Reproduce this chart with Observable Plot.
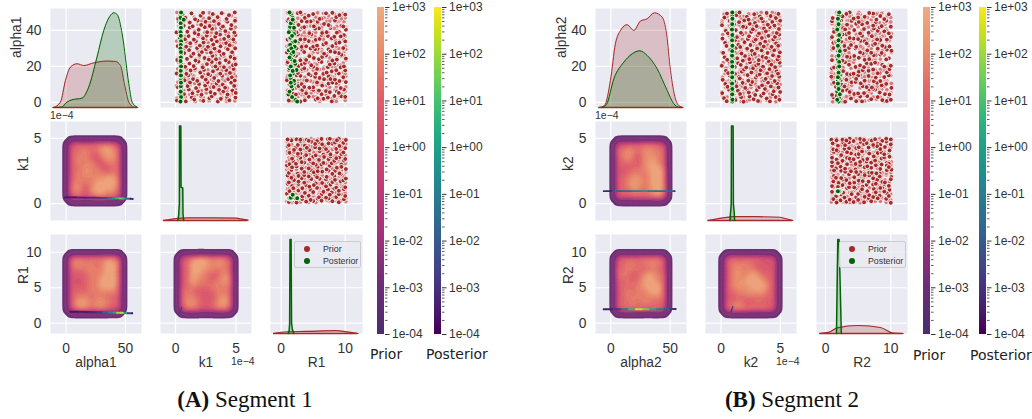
<!DOCTYPE html>
<html><head><meta charset="utf-8">
<script src="https://cdn.jsdelivr.net/npm/d3@7"></script>
<script src="https://cdn.jsdelivr.net/npm/@observablehq/plot@0.6"></script>
<style>
html,body{margin:0;padding:0;background:#fff}
#root{position:relative;width:1032px;height:419px;overflow:hidden}
#root>svg,#root>div{position:absolute}
.lab{font:14px "DejaVu Sans",sans-serif;color:#222;white-space:nowrap}
.off{font:10.5px "Liberation Sans",sans-serif;color:#333;white-space:nowrap}
.cap{font:23px "Liberation Serif",serif;color:#111;white-space:nowrap;transform:translateX(-50%)}
.leg{background:rgba(234,234,242,.85);border:1px solid #ccc;border-radius:2px;box-sizing:border-box;font:8.8px "Liberation Sans",sans-serif;color:#333}
.leg span{position:absolute;white-space:nowrap}
.leg i{position:absolute;width:6px;height:6px;border-radius:50%}
</style></head><body><div id="root"></div>
<script>
// ---------- Prior samples, segment 1
const alpha1=[1.1,3.2,0.6,2.8,1.6,3.6,0.9,2.3,3.4,0.5,2.0,3.1,1.2,2.7,
6.9,4.6,7.2,5.1,6.3,4.3,7.4,5.7,4.8,7.0,6.1,4.4,6.6,5.3,
8.4,10.8,9.1,11.1,8.0,10.2,9.4,11.3,8.6,10.5,9.9,8.2,11.0,9.2,
14.6,12.3,15.0,13.0,12.0,14.2,12.7,15.1,13.6,11.9,14.8,12.9,14.0,12.2,
16.1,18.4,15.9,17.8,18.9,16.6,18.1,15.7,17.3,18.7,16.0,17.9,16.4,18.6,
22.2,19.8,21.6,20.2,22.7,19.5,21.3,22.5,20.0,21.9,19.6,22.4,20.7,21.1,
23.6,26.1,24.2,25.7,23.3,26.4,24.7,23.8,25.9,24.0,26.5,23.4,25.3,24.4,
29.8,27.4,29.1,27.1,30.2,28.0,29.5,27.7,30.0,28.4,27.0,29.6,27.9,30.1,
31.3,33.7,31.0,32.9,34.0,31.6,33.3,30.9,32.2,33.9,31.2,33.0,31.8,34.1,
37.4,35.1,36.9,34.9,37.8,35.6,37.1,34.8,36.5,37.7,35.3,36.7,35.0,37.5,
38.9,41.2,39.3,41.6,38.6,40.4,41.8,39.0,40.9,38.5,41.4,39.6,41.0,38.8,
45.0,42.6,44.4,42.3,45.5,43.1,44.8,42.5,45.2,43.6,42.2,44.9,43.0,45.4,
46.5,48.8,47.0,49.5,46.2,48.2,49.8,46.8,49.1,47.4,49.6,46.4,48.5,50];
const k1=[.12,.6,.85,1.35,1.55,2.1,2.3,2.8,3.0,3.5,3.75,4.25,4.45,4.95,
.35,.7,1.1,1.4,1.85,2.15,2.55,2.9,3.25,3.6,3.95,4.3,4.7,4.98,
.2,.5,1.0,1.2,1.7,1.95,2.45,2.65,3.15,3.4,3.9,4.1,4.6,4.85,
.4,.75,1.05,1.45,1.8,2.2,2.5,2.85,3.2,3.55,3.85,4.35,4.65,4.9,
.1,.55,.9,1.25,1.6,2.05,2.35,2.7,3.1,3.45,3.7,4.2,4.5,4.8,
.3,.8,1.15,1.5,1.9,2.25,2.6,3.0,3.3,3.65,4.0,4.4,4.75,4.97,
.15,.45,.95,1.3,1.65,1.98,2.4,2.75,3.05,3.35,3.8,4.15,4.55,4.88,
.38,.72,1.12,1.48,1.78,2.18,2.52,2.92,3.22,3.62,3.98,4.32,4.68,4.93,
.18,.52,.88,1.22,1.68,2.02,2.32,2.68,3.12,3.42,3.72,4.18,4.48,4.82,
.33,.78,1.08,1.52,1.88,2.28,2.58,2.98,3.28,3.68,4.02,4.38,4.78,4.96,
.08,.48,.98,1.18,1.58,1.92,2.42,2.62,3.02,3.38,3.78,4.12,4.58,4.86,
.28,.68,1.18,1.42,1.82,2.12,2.48,2.82,3.18,3.58,3.92,4.28,4.62,4.92,
.22,.58,.82,1.32,1.62,2.08,2.28,2.78,3.08,3.48,3.82,4.22,4.42,4.9];
const R1=[1.2,4.3,7.9,1.7,5.4,8.3,2.6,5.7,9.4,3.0,6.6,10,3.7,7.3,
3.3,6.3,9.8,3.9,7.0,1.0,4.7,7.6,1.9,5.0,8.7,2.3,5.9,9.0,
5.0,8.6,2.7,5.6,9.3,3.2,6.4,10.1,3.6,7.4,1.3,4.4,8.0,1.6,
7.4,0.9,4.6,7.7,2.0,5.3,8.4,2.4,6.0,9.1,3.0,6.7,9.7,4.0,
9.0,3.3,6.6,10,3.6,7.1,1.2,4.3,7.9,1.7,5.4,8.6,2.6,5.6,
1.9,5.0,8.3,2.7,6.0,9.3,3.2,6.3,9.8,3.7,7.3,1.0,4.7,7.6,
3.9,7.0,1.3,4.4,8.0,1.6,5.1,8.7,2.3,5.9,9.4,3.0,6.4,10.1,
5.7,9.0,3.3,6.7,9.7,3.6,7.4,0.9,4.6,7.7,2.0,5.3,8.4,2.4,
8.0,1.7,5.0,8.6,2.7,5.6,9.1,3.2,6.6,10,3.9,7.0,1.2,4.3,
9.8,3.7,7.3,1.0,4.7,7.9,1.6,5.4,8.3,2.6,6.0,9.3,3.0,6.3,
2.4,5.9,9.0,3.3,6.4,10.1,3.6,7.1,1.3,4.4,7.7,2.0,5.3,8.7,
4.6,7.6,1.9,5.1,8.4,2.7,5.7,9.4,3.2,6.7,9.7,4.0,7.4,1.0,
6.3,10,3.7,7.0,1.2,4.3,8.0,1.7,5.0,8.6,2.6,6.0,9.1,3.0];
// ---------- Prior samples, segment 2
const alpha2=[2.4,0.7,3.5,1.3,2.9,0.4,3.3,1.8,0.8,3.7,2.2,0.6,3.0,1.5,
5.2,7.1,4.4,6.5,4.7,7.3,5.5,4.2,6.9,5.0,7.5,4.6,6.2,5.8,
10.3,8.7,11.2,9.0,10.9,8.1,10.0,11.4,8.5,9.5,11.0,8.9,10.6,8.3,
12.6,14.9,11.8,14.1,13.3,15.2,12.1,13.8,15.0,12.4,13.1,14.7,11.9,14.3,
17.6,16.3,18.8,15.8,17.1,18.3,16.7,19.0,15.6,17.9,16.2,18.5,17.4,16.0,
20.4,22.6,19.7,21.8,20.9,19.4,22.3,20.6,21.4,19.9,22.8,21.0,19.6,22.1,
25.1,23.7,26.3,24.5,23.2,25.8,24.1,26.6,23.5,25.4,24.8,26.2,23.9,25.6,
27.6,29.3,28.2,30.3,27.2,29.9,28.7,27.0,30.0,28.9,27.5,30.2,29.0,27.8,
33.1,31.4,34.2,32.0,30.8,33.5,31.9,34.0,32.6,31.1,33.8,30.9,32.8,31.5,
35.5,37.6,34.7,36.3,37.9,35.2,36.8,34.9,37.3,35.8,37.0,35.0,36.4,37.7,
39.8,38.4,41.3,40.2,38.7,41.7,39.2,40.6,38.3,41.1,39.5,41.9,38.6,40.8,
42.9,45.3,43.4,44.6,42.1,45.6,43.7,44.2,42.4,45.1,43.2,44.7,42.7,45.4,
47.2,49.4,46.3,48.4,50,47.6,46.0,49.0,47.8,46.6,49.7,48.0,46.9,49.2];
const k2=[.25,.48,.95,1.22,1.7,1.9,2.4,2.75,3.12,3.38,3.85,4.12,4.6,4.92,
.1,.66,1.05,1.42,1.6,2.16,2.34,2.88,3.02,3.58,3.7,4.34,4.44,4.98,
.36,.55,.82,1.3,1.82,2.04,2.52,2.62,3.22,3.46,3.96,4.2,4.72,4.84,
.14,.74,1.12,1.5,1.58,2.24,2.3,2.94,3.06,3.64,3.76,4.3,4.52,4.9,
.42,.6,.9,1.18,1.76,1.94,2.56,2.7,3.26,3.34,3.88,4.08,4.68,4.8,
.06,.7,1.16,1.44,1.66,2.12,2.44,2.96,3.14,3.54,4.02,4.24,4.56,4.94,
.3,.52,.86,1.36,1.84,2.02,2.38,2.66,3.18,3.5,3.8,4.38,4.76,4.86,
.18,.78,1.08,1.26,1.72,2.2,2.6,2.84,3.04,3.42,3.92,4.16,4.48,4.96,
.34,.46,.98,1.46,1.62,1.98,2.48,2.78,3.3,3.6,3.72,4.26,4.64,4.82,
.12,.64,1.2,1.34,1.8,2.26,2.36,2.92,3.1,3.44,4.0,4.4,4.54,4.9,
.4,.58,.84,1.24,1.68,2.08,2.54,2.68,3.2,3.62,3.78,4.1,4.7,4.88,
.08,.72,1.1,1.52,1.86,1.96,2.42,2.86,3.0,3.52,3.94,4.32,4.5,4.98,
.28,.5,.92,1.28,1.56,2.18,2.32,2.8,3.28,3.4,3.84,4.18,4.62,4.84];
const R2=[2.3,4.7,6.4,8.7,1.2,3.0,5.3,7.0,9.4,1.7,3.9,5.6,8.0,10,
5.9,7.6,9.8,2.6,4.4,6.7,8.3,1.0,3.3,5.0,7.3,9.1,1.9,3.7,
9.3,1.6,4.0,5.7,7.9,10.1,2.4,4.6,6.3,8.6,1.3,2.9,5.4,7.1,
3.2,5.0,7.4,9.0,2.0,3.6,6.0,7.7,9.7,2.3,4.7,6.6,8.4,0.9,
6.6,8.3,1.0,3.3,5.1,7.3,9.4,1.6,3.9,5.7,8.0,9.8,2.7,4.3,
10,2.4,4.6,6.3,8.7,1.3,3.0,5.3,7.0,9.0,1.9,3.6,5.9,7.6,
3.7,6.0,7.7,9.7,2.6,4.4,6.7,8.4,1.0,3.3,5.1,7.4,9.3,1.7,
7.0,9.4,1.9,3.6,5.7,8.0,10.1,2.3,4.6,6.4,8.6,1.2,3.0,5.3,
1.2,2.9,5.4,7.3,9.1,1.6,3.9,6.0,7.6,9.8,2.4,4.7,6.3,8.7,
4.3,6.7,8.4,1.0,3.2,5.0,7.1,9.4,1.9,3.7,5.6,7.9,10,2.6,
8.0,9.7,2.7,4.4,6.6,8.3,1.3,3.0,5.3,7.4,9.0,1.7,3.6,5.9,
1.7,4.0,5.6,7.7,10,2.4,4.7,6.4,8.6,1.0,3.3,5.1,7.3,9.3,
5.0,7.3,9.0,1.9,3.7,6.0,7.8,9.7,2.6,4.3,6.7,8.4,1.1,3.2];
// ---------- Posterior samples
const postAlpha1=[48.5,45,43,40,38,35.5,33,31,29,26.5,24,21.5,19,16,13.5,10.5,7.5,4.5,1.5,42,36,27,18,50,47,44,41.5,39,37,34,32,30,28,25,23,20,17.5,15,12,9,6,3,.5,11,46];
const postK1=[.42,.45,.43,.41,.47,.44,.42,.46,.43,.45,.41,.44,.47,.42,.43,.46,.44,.41,.45,.43,.36,.47,.44,.46,.41,.43,.45,.42,.44,.46,.43,.41,.45,.44,.42,.46,.43,.45,.42,.44,.43,.46,.41,.45,.68];
const postR1=[1.6,1.5,1.8,1.3,2.0,1.4,1.7,2.1,1.2,1.9,1.6,2.2,1.3,1.8,1.5,2.0,1.7,1.15,2.2,1.4,1.45,1.6,2.4,1.3,1.8,1.5,2.0,1.2,1.7,2.2,1.4,1.6,1.9,1.3,2.1,1.5,1.8,1.4,2.0,1.6,1.3,1.7,2.5,1.5,1.8];
const postAlpha2=[48,45,42,39,36,33,30,27,24,21,18,15,12,9,6,3,.5,44,38,32,50,46.5,43.5,40.5,37.5,34.5,31.5,28.5,25.5,22.5,19.5,16.5,13.5,10.5,7.5,4.5,1.5,26,20,14];
const postK2=[.95,.93,.96,.94,.97,.92,.95,.93,.96,.94,.95,.97,.93,.94,.96,.92,.95,.94,.97,.93,.95,.96,.94,.92,.95,.93,.96,.94,.97,.93,.95,.94,.96,.93,.95,.94,.96,.93,.95,.94];
const postR2=[2.0,2.1,1.9,2.0,2.2,1.8,2.1,2.0,1.9,2.1,2.0,2.2,1.9,2.0,1.8,2.1,2.0,1.9,2.2,2.0,2.1,1.9,2.0,1.8,2.1,2.0,1.9,2.2,2.0,2.1,1.9,2.0,2.1,1.9,2.0,2.2,1.8,2.0,2.1,1.9];
// ---------- Diagonal densities (read on the panel's y axis)
const alphaPostX1=[-11.3,-4,.8,5,13.4,19,26,31.7,37.3,40.1,43,47.2,52.8,55.6,59.8];
const alphaPostY1=[-2.8,-2.6,.2,1.5,2.4,8.5,25.2,40,48.3,49.8,48.9,38.1,10.4,.2,-2.6];
const alphaPriorX1=[-10.4,-4.8,-.6,3.6,9.2,14.9,23.3,34.5,41.5,45.8,49.1,52.8,57,60.4];
const alphaPriorY1=[-2.8,.2,12.2,19.6,21.5,20.5,22,23,22.8,20.5,10.4,.2,-2.6,-2.8];
const alphaPriorX2=[-10.1,-5.3,-.3,3.9,8.2,13.8,19.4,25,30.7,36.8,43.3,47,50.3,54.5,57.3,61];
const alphaPriorY2=[-2.8,-1.7,12.2,32.6,40,43.2,40,45.2,46.5,49.8,47.4,38.1,17.8,2,-1.7,-2.8];
const alphaPostX2=[-7.3,-3.6,2.6,11,18,24.5,30.7,39.1,47.5,53.1,57.3,60];
const alphaPostY2=[-2.8,-1.1,13.2,22.4,27,28.7,26.1,18.7,6.7,-.7,-2.6,-2.8];
const kPostX1=[.2,.26,.32,.33,.44,.46,.6,.62,.68];
const kPostY1=[-1.3,-.9,0,5.95,5.95,1.25,1.2,-.8,-1.3];
const kPriorX1=[-1,0,1,3,5,6];
const kPriorY1=[-1.3,-1.15,-1.1,-1.1,-1.12,-1.27];
const kPostX2=[.75,.82,.86,.88,1.02,1.04,1.1,1.15];
const kPostY2=[-1.3,-.5,0,5.95,5.95,0,-.6,-1.3];
const kPriorX2=[-1.1,0,1,3,5,6.05];
const kPriorY2=[-1.3,-1.12,-1.0,-1.0,-1.05,-1.3];
const rPostX1=[1.1,1.25,1.32,1.38,1.55,1.62,1.75,2.0];
const rPostY1=[-1.45,-1,0,11.8,11.8,0,-.9,-1.45];
const rPriorX1=[-1.2,1,4,8.5,10.5,12];
const rPriorY1=[-1.45,-1.2,-1.15,-1.05,-1.25,-1.45];
const rPostX2=[1.68,1.88,2.08,2.42];
const rPostY2=[-1.45,11.8,11.8,-1.45];
const rPriorX2=[-.87,.46,1.8,5,8.4,10.4,11.9];
const rPriorY2=[-1.45,-1.3,-.65,-.32,-.6,-1.4,-1.45];
// ---------- Prior density, contour levels (one digit per cell, inside the ring)
const levelsA1=["5666678875","5677668986","5777557886","5777755776","5678775566","5778777676","5777788997","6866799997","6865899886","5655677665"];
const levelsA2=["6776777886","6877767997","5667777997","5556778997","5546779997","5556779996","5666777776","5777677665","5898788765","5787677655"];
const levelsA3=["5689987876","5699987876","5699877676","5698765687","5697766788","5676667777","6765556776","6776555787","6886556897","5776556776"];
const levelsB1=["5566677765","6787678776","5786578876","5666578976","5556678997","5567777998","5678877998","5679877998","5667767898","5556666786"];
const levelsB2=["5666677775","5677667775","6676666765","6765679876","5666689976","5666789996","5676778996","5677777776","5667677665","5676665665"];
const levelsB3=["5666666555","5777765555","5787776555","5787898665","5788999865","5788899975","5677888865","5566666665","5676566655","6787766665"];
const levelLog=[-4,-3,-2.7,.3,.5,.7,1.3,1.8,2.35,3];
const contourThresholds=[-3.05,-2.8,-2.55,-1.4,-.6,0,.4,.7,.9,1.1,1.3,1.5,1.7,1.9,2.1,2.3,2.5,2.7];
// ---------- Posterior density, thin contour lines
const lineA1={x:[-1,8,16,24,30,35,39,42,45,48,51,54,56],y:[.48,.47,.46,.45,.44,.43,.42,.41,.4,.39,.38,.37,.36],t:[.05,.1,.12,.15,.2,.35,.5,.65,.8,.6,.3,.12,.05]};
const lineA2={x:[3.6,10,18,25,31,36,40,43,46,49,52,55.6],y:[1.62,1.6,1.58,1.56,1.54,1.52,1.5,1.48,1.46,1.44,1.42,1.4],t:[.05,.08,.1,.15,.3,.45,.6,.85,.9,.55,.2,.05]};
const lineA3={x:[.33,.42,.5],y:[1.5,1.8,2.2],t:[.15,.2,.15]};
const lineB1={x:[-6,2,10,18,26,32,38,44,50,53.7],y:[.95,.95,.95,.95,.95,.95,.95,.95,.95,.95],t:[.1,.3,.35,.42,.5,.42,.38,.35,.3,.15]};
const lineB2={x:[-6,2,9,15,21,27,33,39,45,50,54.5],y:[1.95,1.96,1.97,1.97,1.97,1.97,1.97,1.98,1.98,1.99,2],t:[.08,.18,.4,.65,.92,.78,.6,.42,.3,.15,.08]};
const lineB3={x:[.85,.92,.98],y:[1.6,1.97,2.3],t:[.15,.2,.15]};
// ---------- Ticks
const alphaTicks=[0,20,40], alphaTicksX=[0,50], kTicks=[0,5], rTicks=[0,5,10], rTicksX=[0,10];
const barLabels=["1e-04","1e-03","1e-02","1e-01","1e+00","1e+01","1e+02","1e+03"];
const minorMultipliers=[2,3,4,5,6,7,8,9];
const flareStops=["#4b2d6d","#6b2d75","#9c327a","#bb3a77","#d04a70","#de5f69","#e98a6a","#eeac84"];

const root=document.getElementById("root");
const flare=d3.piecewise(d3.interpolateRgb,flareStops);
const RED="#a52a2a", GRN="#006400", INK="#333";
const FONT='"Liberation Sans",Arial,sans-serif';
const UP=4, GN=(16-1)*UP+1;

function add(node,left,top){node.style.left=left+"px";node.style.top=top+"px";root.appendChild(node);}
function ringGrid(rows){
  const coarse=[];
  for(let r=0;r<16;r++){const line=[];for(let c=0;c<16;c++){
    const e=Math.min(r,c,15-r,15-c);
    let d;
    if(e===0)d=0; else if(e===1)d=1; else if(e===2)d=2; else d=+rows[r-3][c-3];
    const cr=Math.min(r,15-r),cc=Math.min(c,15-c);
    if(cr===1&&cc===1)d=0;
    if(cr===2&&cc===2)d=1;
    line.push(levelLog[d]);
  }coarse.push(line);}
  // resample the read cells on a finer grid so the contour lines come out round
  const out=new Float64Array(GN*GN);
  for(let j=0;j<GN;j++)for(let i=0;i<GN;i++){
    const fy=j/UP,fx=i/UP,y0=Math.min(14,Math.floor(fy)),x0=Math.min(14,Math.floor(fx)),ty=fy-y0,tx=fx-x0;
    out[j*GN+i]=(coarse[y0][x0]*(1-tx)+coarse[y0][x0+1]*tx)*(1-ty)+(coarse[y0+1][x0]*(1-tx)+coarse[y0+1][x0+1]*tx)*ty;
  }
  d3.blur2({data:out,width:GN,height:GN},1.2);
  return Array.from(out);
}
function frameMarks(P){
  return [Plot.frame({fill:"#eaeaf2"}),
    Plot.gridX({ticks:P.xt,stroke:"#fff",strokeOpacity:1,strokeWidth:1.2}),
    Plot.gridY({ticks:P.yt,stroke:"#fff",strokeOpacity:1,strokeWidth:1.2})];
}
function axisMarks(P){
  const m=[];
  if(P.ylab){
    m.push(Plot.axisY({ticks:P.yt,tickSize:0,tickPadding:9,label:null,fontSize:13.8,color:INK}));
    m.push(Plot.text([P.ylab],{frameAnchor:"left",dx:-P.lo,rotate:-90,text:d=>d,fontSize:13.8,fill:INK,clip:false}));
  }
  if(P.xlab)m.push(Plot.axisX({ticks:P.xt,tickSize:0,tickPadding:10,label:P.xlab,labelAnchor:"center",labelArrow:"none",labelOffset:33,fontSize:13.8,color:INK}));
  return m;
}
function panel(P,marks,extra){
  const ml=P.ylab?50:0, mb=P.xlab?42:0;
  const svg=Plot.plot({width:P.w+ml,height:P.h+mb,marginLeft:ml,marginRight:0,marginTop:0,marginBottom:mb,
    x:{domain:P.xd,axis:null},y:{domain:P.yd,axis:null},
    style:{background:"transparent",fontFamily:FONT,fontSize:"13.8px",color:INK,overflow:"visible"},
    ...extra,
    marks:[...frameMarks(P),...marks,...axisMarks(P)]});
  add(svg,P.x-ml,P.y);
}
function kde(xs,ys,color,base,curve,sw,rule){
  const m=[Plot.areaY(xs,{x:xs,y1:base,y2:ys,fill:color,fillOpacity:.22,curve}),
          Plot.lineY(xs,{x:xs,y:ys,stroke:color,strokeWidth:sw,curve})];
  if(rule)m.push(Plot.ruleY([base],{x1:xs[0],x2:xs[xs.length-1],stroke:color,strokeWidth:1.4}));
  return m;
}
function scat(xs,ys,px,py){
  // samples covered by later ones show only as pink specks between the visible dots
  const n=ys.length,up=ys.map((_,i)=>ys[(i+7)%n]),back=xs.slice().reverse();
  return [Plot.dot(xs,{x:back,y:ys,r:2.2,fill:"#cf7a7c",stroke:"#fff",strokeWidth:.6}),
          Plot.dot(xs,{x:xs,y:up,r:2.2,fill:"#cf7a7c",stroke:"#fff",strokeWidth:.6}),
          Plot.dot(xs,{x:xs,y:ys,r:2.4,fill:RED,stroke:"#fff",strokeWidth:.8}),
          Plot.dot(px,{x:px,y:py,r:2.5,fill:GRN,stroke:"#fff",strokeWidth:.9})];
}
function dens(levels,ext,L){
  const hx=(ext[1]-ext[0])/32,hy=(ext[3]-ext[2])/32;
  return [Plot.contour(ringGrid(levels),{width:GN,height:GN,x1:ext[0]+hx,x2:ext[1]-hx,y1:ext[2]+hy,y2:ext[3]-hy,thresholds:contourThresholds,fill:Plot.identity,stroke:"#f6c8a8",strokeOpacity:.2,strokeWidth:.4}),
    Plot.line(L.x,{x:L.x,y:L.y,z:null,stroke:{value:L.t.map(t=>d3.interpolateViridis(t)),scale:null},strokeWidth:L.sw||1.8})];
}
const flareScale={color:{type:"linear",domain:[-4,3],interpolate:flare,clamp:true}};

function segment(S){
  const rows=[{y:8,h:99,d:[-2.8,52.2],t:alphaTicks,l:S.names[0],o:34},{y:121,h:99,d:[-1.3,6.3],t:kTicks,l:S.names[1],o:27},{y:234,h:99,d:[-1.45,12.5],t:rTicks,l:S.names[2],o:27}];
  const cols=[{x:S.cols[0],w:91,d:S.xd[0],t:alphaTicksX,l:S.names[0]},{x:S.cols[1],w:91,d:S.xd[1],t:kTicks,l:S.names[1]},{x:S.cols[2],w:S.w3,d:S.xd[2],t:rTicksX,l:S.names[2]}];
  const P=(r,c)=>({x:cols[c].x,y:rows[r].y,w:cols[c].w,h:rows[r].h,xd:cols[c].d,yd:rows[r].d,xt:cols[c].t,yt:rows[r].t,
    ylab:c===0?rows[r].l:null,xlab:r===2?cols[c].l:null,lo:rows[r].o});
  panel(P(0,0),[...kde(S.dA[0],S.dA[1],RED,-2.8,"monotone-x",1,true),...kde(S.dA[2],S.dA[3],GRN,-2.8,"monotone-x",1)]);
  panel(P(1,1),[...kde(S.dK[0],S.dK[1],RED,-1.3,"linear",1.2,true),...kde(S.dK[2],S.dK[3],GRN,-1.3,"linear",1.5)]);
  panel(P(2,2),[...kde(S.dR[0],S.dR[1],RED,-1.45,"monotone-x",1.2,true),...kde(S.dR[2],S.dR[3],GRN,-1.45,"linear",1.5)]);
  panel(P(0,1),scat(S.k,S.a,S.pk,S.pa));
  panel(P(0,2),scat(S.r,S.a,S.pr,S.pa));
  panel(P(1,2),scat(S.r,S.k,S.pr,S.pk));
  panel(P(1,0),dens(S.lv[0],S.ext[0],{...S.ln[0]}),flareScale);
  panel(P(2,0),dens(S.lv[1],S.ext[1],{...S.ln[1],sw:2}),flareScale);
  panel(P(2,1),dens(S.lv[2],S.ext[2],{...S.ln[2],sw:1.2}),flareScale);
  colorbar(S.bars[0],flareScale.color);
  colorbar(S.bars[1],{type:"linear",domain:[-4,3],scheme:"viridis"});
  note("lab","Prior",S.labs[0],S.labY);
  note("lab","Posterior",S.labs[1],S.labY);
  note("off","1e\u22124",S.cols[0],109);
  note("off","1e\u22124",S.off,355);
  const c=document.createElement("div");c.className="cap";c.innerHTML="<b>("+S.tag+")</b> "+S.cap;add(c,S.capX,387);
  const lg=document.createElement("div");lg.className="leg";lg.style.width="67px";lg.style.height="27px";
  lg.innerHTML='<i style="left:9px;top:4px;background:'+RED+'"></i><span style="left:28px;top:2px">Prior</span><i style="left:9px;top:16px;background:'+GRN+'"></i><span style="left:28px;top:14px">Posterior</span>';
  add(lg,S.legX,241);
}
function note(cls,t,x,y){const d=document.createElement("div");d.className=cls;d.textContent=t;add(d,x,y);return d;}
function colorbar(x,color){
  const decades=barLabels.map(Number);
  const minors=decades.slice(0,-1).flatMap(d=>minorMultipliers.map(m=>d*m));
  const steps=d3.range(-4,3,.05);
  const svg=Plot.plot({width:60,height:341,marginLeft:0,marginRight:53,marginTop:7,marginBottom:7,
    x:{domain:[0,1],axis:null},y:{type:"log",domain:[1e-4,1e3],axis:null},color,
    style:{background:"transparent",fontFamily:FONT,fontSize:"12px",color:INK,overflow:"visible"},
    marks:[
      Plot.rect(steps,{x1:0,x2:1,y1:d=>10**d,y2:d=>10**(d+.05),fill:d=>d,shapeRendering:"crispEdges"}),
      Plot.axisY({anchor:"right",ticks:minors,tickSize:2.5,text:null,label:null,strokeWidth:.8,stroke:INK}),
      Plot.axisY({anchor:"right",ticks:decades,tickSize:4.5,tickPadding:3,label:null,fontSize:12,color:INK,tickFormat:d=>barLabels[decades.indexOf(d)]})
    ]});
  add(svg,x,0);
}
segment({names:["alpha1","k1","R1"],tag:"A",cap:"Segment 1",capX:245,cols:[50,160,270],w3:92,off:231,
  xd:[[-13.2,63.5],[-1.24,6.28],[-1.67,12.7]],a:alpha1,k:k1,r:R1,pa:postAlpha1,pk:postK1,pr:postR1,
  dA:[alphaPriorX1,alphaPriorY1,alphaPostX1,alphaPostY1],dK:[kPriorX1,kPriorY1,kPostX1,kPostY1],dR:[rPriorX1,rPriorY1,rPostX1,rPostY1],
  lv:[levelsA1,levelsA2,levelsA3],ln:[lineA1,lineA2,lineA3],
  ext:[[-10.8,59.1,5.98,-.96],[-10.8,59.1,11.8,-.65],[-.9,5.95,11.8,-.65]],
  bars:[377,434],labs:[370,426],labY:346,legX:294});
segment({names:["alpha2","k2","R2"],tag:"B",cap:"Segment 2",capX:792,cols:[595,705,816],w3:91,off:776,
  xd:[[-12.9,63.8],[-1.31,6.36],[-1.38,12.56]],a:alpha2,k:k2,r:R2,pa:postAlpha2,pk:postK2,pr:postR2,
  dA:[alphaPriorX2,alphaPriorY2,alphaPostX2,alphaPostY2],dK:[kPriorX2,kPriorY2,kPostX2,kPostY2],dR:[rPriorX2,rPriorY2,rPostX2,rPostY2],
  lv:[levelsB1,levelsB2,levelsB3],ln:[lineB1,lineB2,lineB3],
  ext:[[-8.5,59.2,5.98,-.96],[-8.5,59.2,11.8,-.65],[-.98,5.93,11.8,-.65]],
  bars:[923,979],labs:[913,970],labY:347,legX:839});
</script></body></html>
